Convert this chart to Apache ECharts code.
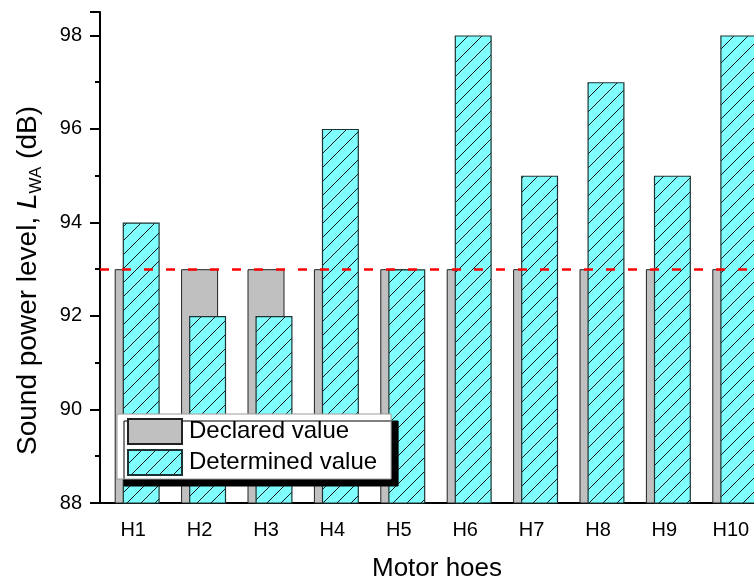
<!DOCTYPE html>
<html>
<head>
<meta charset="utf-8">
<style>
  html, body { margin: 0; padding: 0; background: #fff; }
  #chart { width: 754px; height: 580px; }
</style>
<script src="https://cdn.jsdelivr.net/npm/echarts@6/dist/echarts.min.js"></script>
</head>
<body>
<div id="chart"></div>
<script>
// Motor hoe sound power levels: declared vs determined (dB)
const categories = ['H1', 'H2', 'H3', 'H4', 'H5', 'H6', 'H7', 'H8', 'H9', 'H10'];
const declaredValues = [93, 93, 93, 93, 93, 93, 93, 93, 93, 93];
const determinedValues = [94, 92, 92, 96, 93, 98, 95, 97, 95, 98];
const limitLevel = 93;
const yTicks = { min: 88, max: 98.5, interval: 2 };

// Diagonal hatch tile for the determined-value bars
function hatchTile(size, bg, line) {
  const c = document.createElement('canvas');
  c.width = size; c.height = size;
  const g = c.getContext('2d');
  g.fillStyle = bg;
  g.fillRect(0, 0, size, size);
  g.strokeStyle = line;
  g.lineWidth = 1;
  g.beginPath();
  g.moveTo(-2, 2); g.lineTo(2, -2);
  g.moveTo(0, size); g.lineTo(size, 0);
  g.moveTo(size - 2, size + 2); g.lineTo(size + 2, size - 2);
  g.stroke();
  return c;
}

const FONT = 'Liberation Sans, Arial, sans-serif';
const chart = echarts.init(document.getElementById('chart'), null, { renderer: 'canvas' });

const cyanFill = { image: hatchTile(14, '#80FFFF', '#0b1a1a'), repeat: 'repeat' };

chart.setOption({
  animation: false,
  backgroundColor: '#ffffff',
  textStyle: { fontFamily: FONT },
  grid: { left: 100, top: 12, width: 664, height: 491, containLabel: false, outerBoundsMode: 'none' },
  legend: {
    data: ['Declared value', 'Determined value'],
    orient: 'vertical',
    left: 117,
    top: 414,
    icon: 'rect',
    itemWidth: 54,
    itemHeight: 25,
    itemGap: 4,
    padding: [4, 14, 3, 10],
    backgroundColor: '#ffffff',
    borderColor: '#9a9a9a',
    borderWidth: 1,
    shadowColor: '#000000',
    shadowBlur: 0,
    shadowOffsetX: 7,
    shadowOffsetY: 7,
    textStyle: { fontSize: 24, color: '#000', fontFamily: FONT, padding: [0, 0, 0, 2] }
  },
  xAxis: {
    type: 'category',
    data: categories,
    boundaryGap: true,
    name: 'Motor hoes',
    nameLocation: 'middle',
    nameGap: 53,
    nameTextStyle: { fontSize: 26, color: '#000', fontFamily: FONT, padding: [0, 0, 0, 10] },
    axisLine: { lineStyle: { color: '#000', width: 2 } },
    axisTick: { show: false },
    axisLabel: { fontSize: 20, color: '#000', margin: 17, fontFamily: FONT },
    splitLine: { show: false }
  },
  yAxis: {
    type: 'value',
    min: yTicks.min,
    max: yTicks.max,
    interval: yTicks.interval,
    name: '{a|Sound power level, }{i|L}{s|WA}{a| (dB)}',
    nameLocation: 'middle',
    nameGap: 55,
    nameRotate: 90,
    nameTextStyle: {
      color: '#000',
      fontFamily: FONT,
      padding: [0, 46, 0, 0],
      rich: {
        a: { fontSize: 28, fontFamily: FONT, color: '#000', lineHeight: 34, verticalAlign: 'middle' },
        i: { fontSize: 28, fontFamily: FONT, color: '#000', fontStyle: 'italic', lineHeight: 34, verticalAlign: 'middle' },
        s: { fontSize: 17, fontFamily: FONT, color: '#000', lineHeight: 34, verticalAlign: 'bottom' }
      }
    },
    axisLine: { show: true, lineStyle: { color: '#000', width: 2 } },
    axisTick: { show: true, inside: false, length: 10, lineStyle: { color: '#000', width: 2 } },
    minorTick: { show: true, splitNumber: 2, length: 5, lineStyle: { color: '#000', width: 2 } },
    axisLabel: {
      fontSize: 20, color: '#000', margin: 18, fontFamily: FONT,
      showMaxLabel: false,
      formatter: v => (v % 2 === 0 ? String(v) : '')
    },
    splitLine: { show: false }
  },
  series: [
    {
      // spacer keeps the declared bar centred on its category
      name: 'spacer',
      type: 'bar',
      data: categories.map(() => null),
      barWidth: 37,
      barGap: '-78.4%',
      silent: true
    },
    {
      name: 'Declared value',
      type: 'bar',
      data: declaredValues,
      barWidth: 37,
      barGap: '-78.4%',
      itemStyle: { color: '#C0C0C0', borderColor: '#222', borderWidth: 1 }
    },
    {
      name: 'Determined value',
      type: 'bar',
      data: determinedValues,
      barWidth: 37,
      barGap: '-78.4%',
      itemStyle: { color: cyanFill, borderColor: '#1c3333', borderWidth: 1.2 },
      markLine: {
        silent: true,
        symbol: ['none', 'none'],
        label: { show: false },
        z: 10,
        lineStyle: { color: '#ff0000', width: 2.5, type: [9, 13] },
        data: [{ yAxis: limitLevel }]
      }
    }
  ]
});
</script>
</body>
</html>
